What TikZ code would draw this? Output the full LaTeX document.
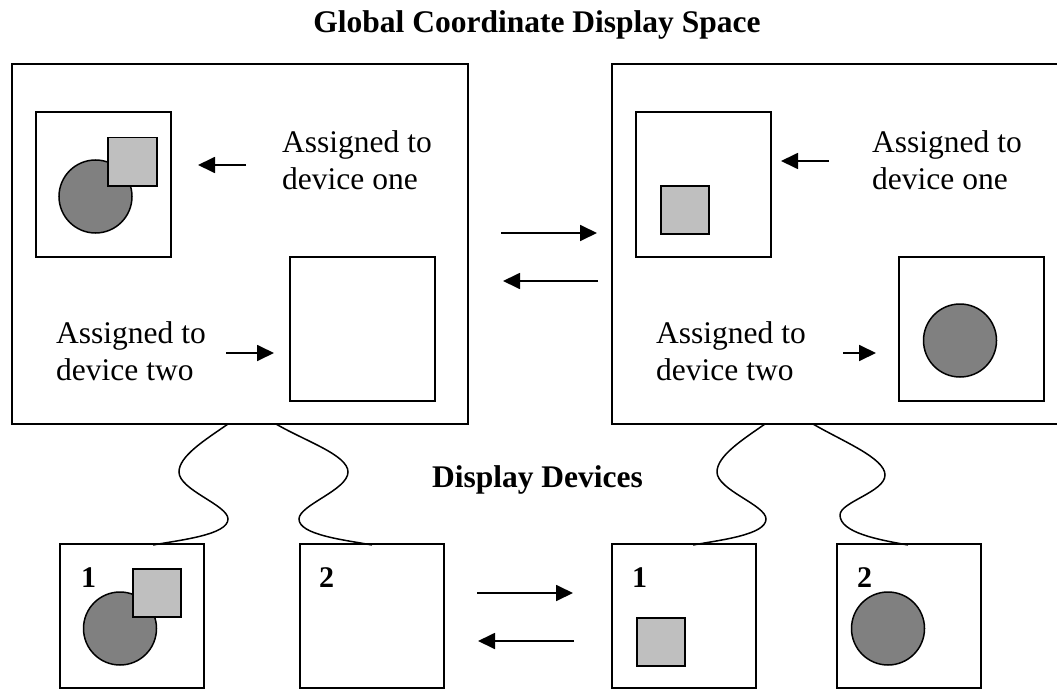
\documentclass[tikz,border=0pt]{standalone}
\usepackage{fontspec}
\setmainfont{Liberation Serif}
\usetikzlibrary{arrows.meta}
\begin{document}
\begin{tikzpicture}[x=1pt,y=-1pt,
  frame/.style={draw,line width=1.8pt,inner sep=0pt,outer sep=0pt,anchor=north west},
  sq/.style={draw,line width=1.5pt,fill=black!25,inner sep=0pt,minimum size=48pt,anchor=north west},
  disc/.style={draw,line width=1.5pt,fill=black!50,circle,inner sep=0pt,minimum size=73pt},
  lbl/.style={font=\fontsize{31.5}{36.5}\selectfont,align=left,anchor=north west,inner sep=0pt},
  ttl/.style={font=\bfseries\fontsize{31.5}{36}\selectfont,inner sep=0pt,anchor=base},
  num/.style={font=\bfseries\fontsize{30}{36}\selectfont,inner sep=0pt,anchor=base west},
  arr/.style={line width=1.8pt,-{Triangle[length=17pt,width=16pt]}},
  wave/.style={line width=1.5pt}]
\useasboundingbox (0,0) rectangle (1057,690);
\clip (0,0) rectangle (1057,690);

% titles
\node[ttl] (title) at (537,33) {Global Coordinate Display Space};
\node[ttl] (devtitle) at (537.5,487) {Display Devices};

% big boxes
\node[frame,minimum width=456pt,minimum height=360pt] (bigL) at (12,64) {};
\node[frame,minimum width=470pt,minimum height=360pt] (bigR) at (612,64) {};

% inner boxes left
\node[frame,minimum width=135pt,minimum height=145pt] (L1) at (36,112) {};
\node[frame,minimum width=145pt,minimum height=144pt] (L2) at (290,257) {};
\node[disc] (L1c) at (95.5,196.5) {};
\node[sq,minimum width=49pt] (L1s) at (107,137) {};

% inner boxes right
\node[frame,minimum width=135pt,minimum height=145pt] (R1) at (636,112) {};
\node[frame,minimum width=145pt,minimum height=144pt] (R2) at (899,257) {};
\node[sq] (R1s) at (660,185) {};
\node[disc] (R2c) at (960,340.5) {};

% labels
\node[lbl] (tL1) at (282,130.5) {Assigned to\\device one};
\node[lbl] (tL2) at (56,321.5) {Assigned to\\device two};
\node[lbl] (tR1) at (872,130.5) {Assigned to\\device one};
\node[lbl] (tR2) at (656,321.5) {Assigned to\\device two};

% arrows inside big boxes
\coordinate (a1s) at (246,165); \coordinate (a1e) at (198,165);
\coordinate (a2s) at (226,353); \coordinate (a2e) at (274,353);
\coordinate (a3s) at (829,161); \coordinate (a3e) at (781,161);
\coordinate (a4s) at (843,353); \coordinate (a4e) at (876,353);
\draw[arr] (a1s) -- (a1e);
\draw[arr] (a2s) -- (a2e);
\draw[arr] (a3s) -- (a3e);
\draw[arr] (a4s) -- (a4e);

% arrows between big boxes
\coordinate (m1s) at (501,233); \coordinate (m1e) at (597,233);
\coordinate (m2s) at (598,281); \coordinate (m2e) at (503,281);
\draw[arr] (m1s) -- (m1e);
\draw[arr] (m2s) -- (m2e);

% bottom devices
\node[frame,minimum width=144pt,minimum height=144pt] (B1) at (60,544) {};
\node[frame,minimum width=144pt,minimum height=144pt] (B2) at (300,544) {};
\node[frame,minimum width=144pt,minimum height=144pt] (B3) at (612,544) {};
\node[frame,minimum width=144pt,minimum height=144pt] (B4) at (837,544) {};
\node[disc] (B1c) at (120,628.5) {};
\node[sq] (B1s) at (132,568) {};
\node[sq] (B3s) at (636,617) {};
\node[disc] (B4c) at (888,628.5) {};
\node[num] (n1) at (81,587) {1};
\node[num] (n2) at (319,587) {2};
\node[num] (n3) at (632,587) {1};
\node[num] (n4) at (857,587) {2};

% arrows between devices
\coordinate (d1s) at (477,593); \coordinate (d1e) at (573,593);
\coordinate (d2s) at (574,641); \coordinate (d2e) at (478,641);
\draw[arr] (d1s) -- (d1e);
\draw[arr] (d2s) -- (d2e);

% cables
\coordinate (w1a) at (228,424); \coordinate (w1b) at (153,545);
\coordinate (w2a) at (276,424); \coordinate (w2b) at (372,545);
\coordinate (w3a) at (765,424); \coordinate (w3b) at (693,545);
\coordinate (w4a) at (813,424); \coordinate (w4b) at (908,545);
\draw[wave] (w1a) .. controls (205,440) and (179,456) .. (179,472)
  .. controls (179,490) and (228,505) .. (228,519)
  .. controls (228,535) and (180,540) .. (w1b);
\draw[wave] (w2a) .. controls (305,441) and (348,455) .. (348,472)
  .. controls (348,490) and (299,505) .. (299,519)
  .. controls (299,535) and (345,540) .. (w2b);
\draw[wave] (w3a) .. controls (742,440) and (717,456) .. (717,472)
  .. controls (717,490) and (766,505) .. (766,519)
  .. controls (766,535) and (720,540) .. (w3b);
\draw[wave] (w4a) .. controls (842,441) and (885,458) .. (885,475)
  .. controls (885,492) and (840,502) .. (840,515)
  .. controls (840,533) and (880,540) .. (w4b);
\end{tikzpicture}
\end{document}
